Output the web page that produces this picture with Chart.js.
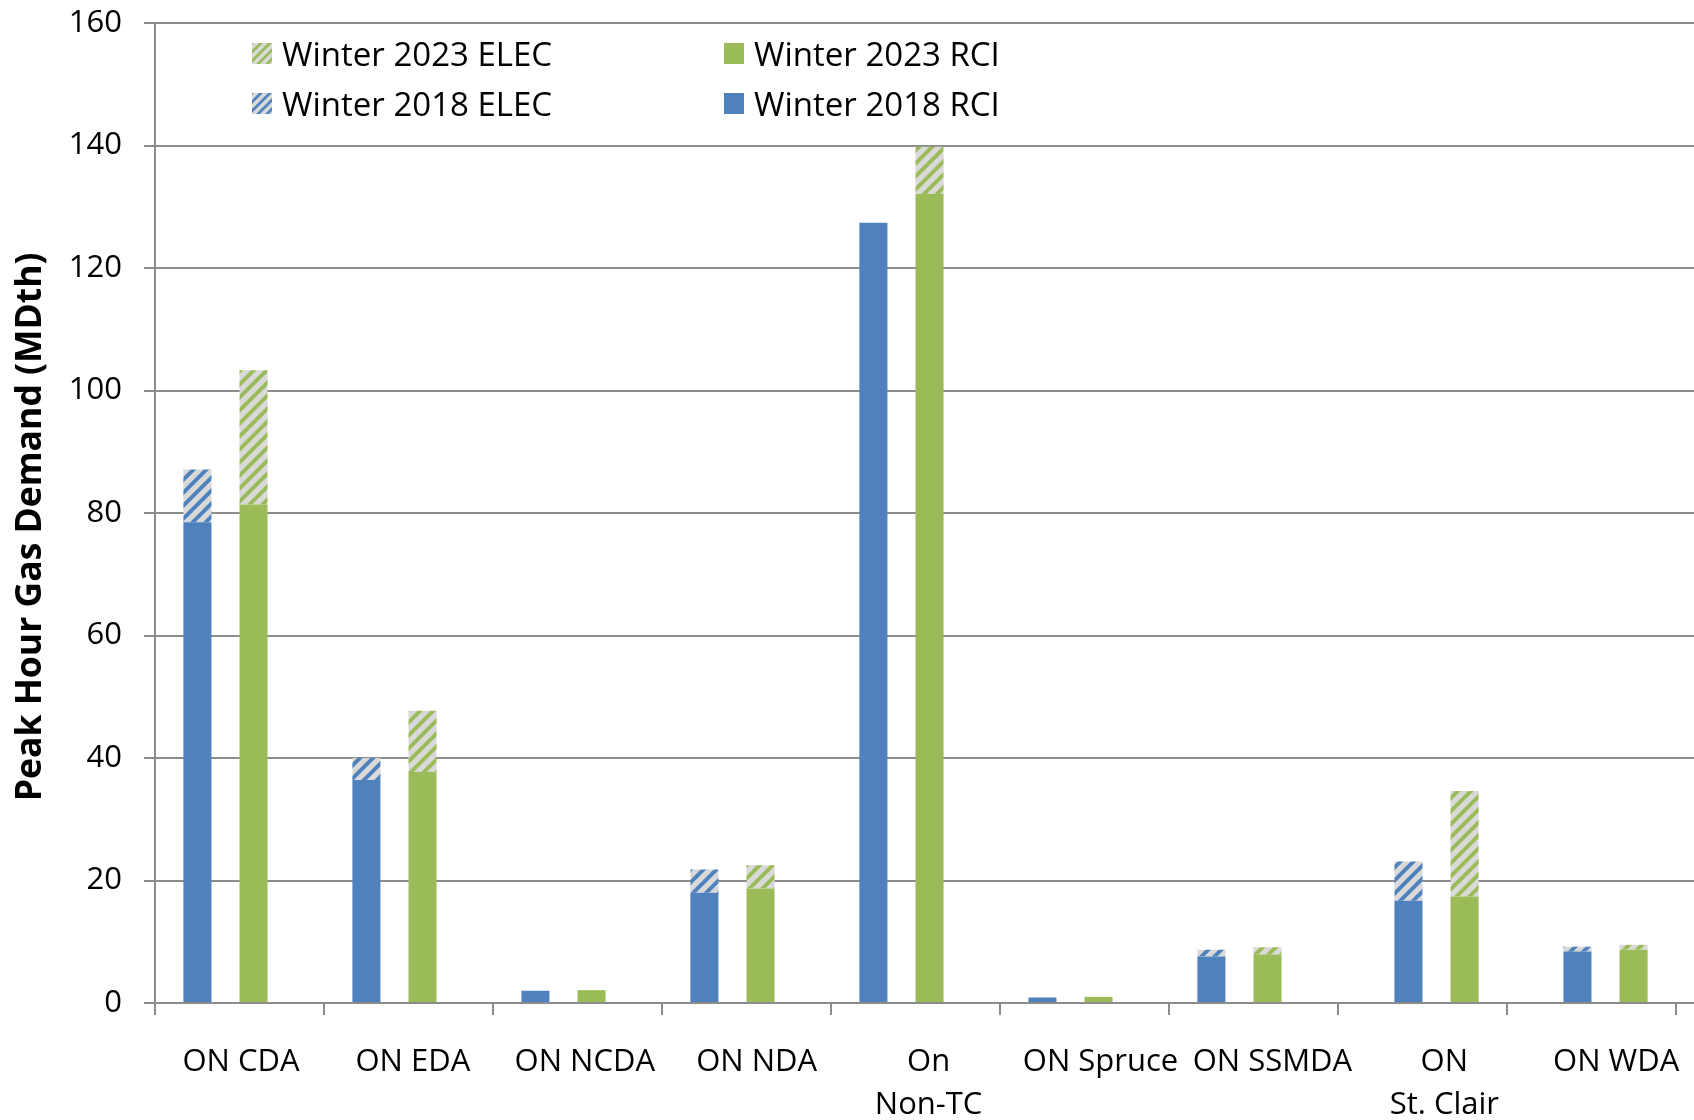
<!DOCTYPE html>
<html>
<head>
<meta charset="utf-8">
<script src="https://cdn.jsdelivr.net/npm/chart.js@4"></script>
<style>
    html, body { margin: 0; padding: 0; background: #fff; }
    #wrap { position: relative; width: 1694px; height: 1120px; }
    .legend-item { position: absolute; display: flex; align-items: center; white-space: nowrap;
        font-family: 'Open Sans', sans-serif; font-size: 33px; color: #000; line-height: 21px; }
    .legend-item canvas { width: 20px; height: 21px; margin-right: 10px; }
</style>
</head>
<body>
<div id="wrap">
    <canvas id="gasChart" width="1694" height="1120"></canvas>
    <div id="legend"></div>
</div>
<script>
// Dados (MDth)
const categories = ['ON CDA', 'ON EDA', 'ON NCDA', 'ON NDA', ['On', 'Non-TC'], 'ON Spruce', 'ON SSMDA', ['ON', 'St. Clair'], 'ON WDA'];
const rci2018  = [78.5, 36.4, 2.0, 18.0, 127.4, 0.9, 7.6, 16.7, 8.4];
const elec2018 = [8.6, 3.6, 0, 3.8, 0, 0, 1.1, 6.4, 0.8];
const rci2023  = [81.4, 37.7, 2.1, 18.7, 132.1, 1.0, 7.9, 17.4, 8.7];
const elec2023 = [21.9, 10.0, 0, 3.8, 7.7, 0, 1.2, 17.2, 0.8];
const yMin = 0, yMax = 160, yStep = 20;

// No original as duas últimas categorias têm as colunas deslocadas uma posição à direita
const slotShift = [0, 0, 0, 0, 0, 0, 0, 1, 1];

const BLUE = '#4f81bd';
const GREEN = '#9bbb59';
const AXIS = '#8c8c8c';
const FONT = "'Open Sans', sans-serif";

// padrão listrado (hachura diagonal) para as parcelas ELEC
function makeHatch(color, size) {
    const c = document.createElement('canvas');
    c.width = size; c.height = size;
    const g = c.getContext('2d');
    g.fillStyle = '#d9d9d9';
    g.fillRect(0, 0, size, size);
    g.strokeStyle = color;
    g.lineWidth = size * 0.3;
    g.beginPath();
    g.moveTo(0, size); g.lineTo(size, 0);
    g.moveTo(-size / 2, size / 2); g.lineTo(size / 2, -size / 2);
    g.moveTo(size / 2, size * 1.5); g.lineTo(size * 1.5, size / 2);
    g.stroke();
    return c;
}

// mantém só os valores das categorias com o deslocamento pedido
function pick(values, shift) {
    return values.map((v, i) => (slotShift[i] === shift ? v : null));
}

// No original os rótulos do eixo X ficam um pouco mais espaçados que as categorias
const labelShift = {
    id: 'labelShift',
    beforeDraw(chart) {
        const s = chart.scales.x;
        s.getLabelItems().forEach((item, i) => {
            item.options.translation[0] = s.getPixelForTick(i) + 1.5 + 2.9 * i;
        });
    }
};

// Prolonga as linhas de grade horizontais até a borda direita
const gridExtend = {
    id: 'gridExtend',
    afterDraw(chart) {
        const { ctx, chartArea, scales } = chart;
        ctx.save();
        ctx.strokeStyle = AXIS;
        ctx.lineWidth = 2;
        scales.y.ticks.forEach(t => {
            const y = Math.round(scales.y.getPixelForValue(t.value));
            ctx.beginPath();
            ctx.moveTo(chartArea.right, y);
            ctx.lineTo(chart.width, y);
            ctx.stroke();
        });
        ctx.restore();
    }
};

const ctx = document.getElementById('gasChart').getContext('2d');
const hatchBlue = ctx.createPattern(makeHatch(BLUE, 13), 'repeat');
const hatchGreen = ctx.createPattern(makeHatch(GREEN, 13), 'repeat');

// 4 posições por categoria: 2018 | vazio | 2023 | vazio (ou deslocado uma posição)
new Chart(ctx, {
    type: 'bar',
    data: {
        labels: categories,
        datasets: [
            { label: 'Winter 2018 RCI', data: pick(rci2018, 0), backgroundColor: BLUE, stack: 'slot0' },
            { label: 'Winter 2018 ELEC', data: pick(elec2018, 0), backgroundColor: hatchBlue, stack: 'slot0' },
            { label: 'Winter 2018 RCI', data: pick(rci2018, 1), backgroundColor: BLUE, stack: 'slot1' },
            { label: 'Winter 2018 ELEC', data: pick(elec2018, 1), backgroundColor: hatchBlue, stack: 'slot1' },
            { label: 'Winter 2023 RCI', data: pick(rci2023, 0), backgroundColor: GREEN, stack: 'slot2' },
            { label: 'Winter 2023 ELEC', data: pick(elec2023, 0), backgroundColor: hatchGreen, stack: 'slot2' },
            { label: 'Winter 2023 RCI', data: pick(rci2023, 1), backgroundColor: GREEN, stack: 'slot3' },
            { label: 'Winter 2023 ELEC', data: pick(elec2023, 1), backgroundColor: hatchGreen, stack: 'slot3' }
        ]
    },
    options: {
        responsive: false,
        animation: false,
        layout: { padding: { top: 23, right: 18, left: 0, bottom: 0 } },
        datasets: { bar: { categoryPercentage: 0.664, barPercentage: 1.0, borderWidth: 0 } },
        plugins: {
            legend: { display: false },
            tooltip: { enabled: false }
        },
        scales: {
            x: {
                stacked: true,
                grid: { drawOnChartArea: false, offset: true, color: AXIS, lineWidth: 2, tickLength: 12 },
                border: { color: AXIS, width: 2 },
                ticks: { color: '#000', font: { family: FONT, size: 31, lineHeight: 1.4 }, padding: 25, maxRotation: 0, autoSkip: false },
                afterFit: (scale) => { scale.height = 117; }
            },
            y: {
                stacked: true,
                min: yMin,
                max: yMax,
                grid: { color: AXIS, lineWidth: 2, tickLength: 11 },
                border: { color: AXIS, width: 2 },
                ticks: { stepSize: yStep, color: '#000', font: { family: FONT, size: 31 }, padding: 22 },
                title: {
                    display: true,
                    text: 'Peak Hour Gas Demand (MDth)\u00a0\u00a0\u00a0',
                    color: '#000',
                    font: { family: FONT, size: 35.5, weight: 'bold' },
                    padding: { top: 10, bottom: 0 }
                },
                afterFit: (scale) => {
                    scale.width = 155;
                    scale.paddingTop = 0;
                    scale.paddingBottom = 0;
                }
            }
        }
    },
    plugins: [labelShift, gridExtend]
});

// Legenda em HTML (posicionada dentro da área do gráfico, 2 colunas)
const legendItems = [
    { text: 'Winter 2023 ELEC', color: GREEN, hatch: true, left: 252, top: 43 },
    { text: 'Winter 2023 RCI', color: GREEN, hatch: false, left: 724, top: 43 },
    { text: 'Winter 2018 ELEC', color: BLUE, hatch: true, left: 252, top: 93 },
    { text: 'Winter 2018 RCI', color: BLUE, hatch: false, left: 724, top: 93 }
];
const legendEl = document.getElementById('legend');
legendItems.forEach(item => {
    const div = document.createElement('div');
    div.className = 'legend-item';
    div.style.left = item.left + 'px';
    div.style.top = item.top + 'px';
    const sw = document.createElement('canvas');
    sw.width = 20; sw.height = 21;
    const g = sw.getContext('2d');
    if (item.hatch) {
        g.fillStyle = g.createPattern(makeHatch(item.color, 9), 'repeat');
    } else {
        g.fillStyle = item.color;
    }
    g.fillRect(0, 0, 20, 21);
    div.appendChild(sw);
    const span = document.createElement('span');
    span.textContent = item.text;
    div.appendChild(span);
    legendEl.appendChild(div);
});
</script>
</body>
</html>
